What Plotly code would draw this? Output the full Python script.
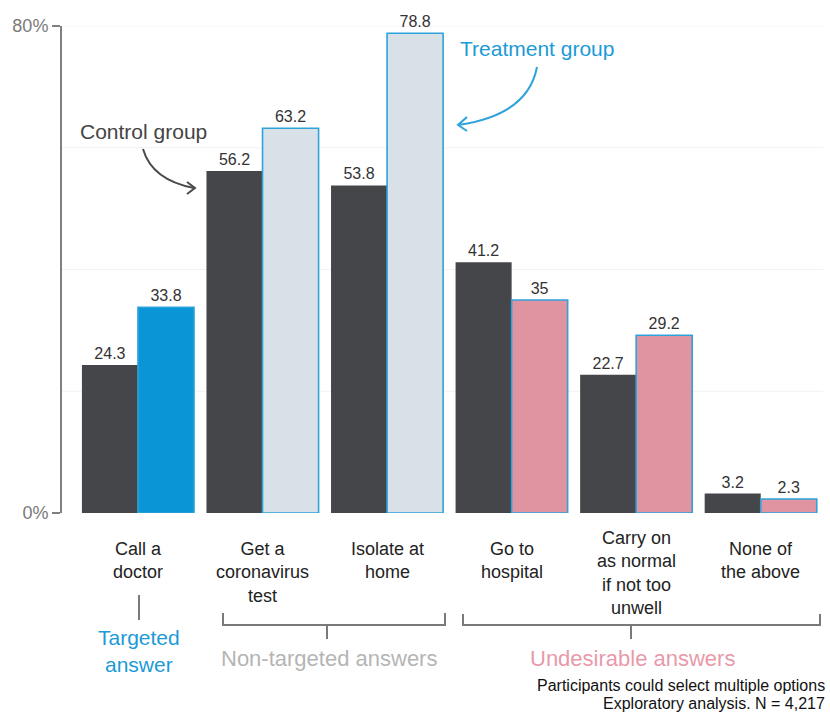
import plotly.graph_objects as go

# ---- data ----
categories = ["Call a doctor", "Get a coronavirus test", "Isolate at home",
              "Go to hospital", "Carry on as normal if not too unwell", "None of the above"]
category_labels = ["Call a<br>doctor", "Get a<br>coronavirus<br>test", "Isolate at<br>home",
                   "Go to<br>hospital", "Carry on<br>as normal<br>if not too<br>unwell", "None of<br>the above"]
control = [24.3, 56.2, 53.8, 41.2, 22.7, 3.2]
treatment = [33.8, 63.2, 78.8, 35, 29.2, 2.3]
answer_type = ["targeted", "non", "non", "undesirable", "undesirable", "undesirable"]

# ---- styling ----
FONT = "Arial, Liberation Sans, sans-serif"
DARK = "#45464a"
BLUE = "#0a96d6"
BLUE_TXT = "#1b9bd7"
OUTLINE = "#2ea3db"
fill_by_type = {"targeted": BLUE, "non": "#d9e1e8", "undesirable": "#e093a1"}
treat_fill = [fill_by_type[t] for t in answer_type]

W, H = 830, 712
L, R, T, B = 62, 7, 26, 199
pw, ph = W - L - R, H - T - B


def px(x):
    return (x - L) / pw


def py(y):
    return (H - B - y) / ph


fig = go.Figure()
fig.add_bar(x=categories, y=control, name="Control group",
            marker=dict(color=DARK, line=dict(width=0)),
            text=[str(v) for v in control], textposition="outside",
            textfont=dict(family=FONT, size=16, color="#333333"), cliponaxis=False)
fig.add_bar(x=categories, y=treatment, name="Treatment group",
            marker=dict(color=treat_fill, line=dict(color=OUTLINE, width=1.6)),
            text=[str(v) for v in treatment], textposition="outside",
            textfont=dict(family=FONT, size=16, color="#333333"), cliponaxis=False)

shapes = []
# faint horizontal guides
for g in [20, 40, 60, 80]:
    shapes.append(dict(type="line", xref="paper", yref="y", x0=0, x1=1, y0=g, y1=g,
                       line=dict(color="#f2f2f2", width=1), layer="below"))

GREY = "#7a7a7a"
# bracket under the "Call a doctor" column
shapes.append(dict(type="line", xref="paper", yref="paper", x0=px(139), x1=px(139),
                   y0=py(595), y1=py(620), line=dict(color=GREY, width=2)))
# bracket for non-targeted answers
shapes.append(dict(type="path", xref="paper", yref="paper",
                   path=f"M {px(223)},{py(613)} L {px(223)},{py(625)} L {px(445)},{py(625)} L {px(445)},{py(613)}",
                   line=dict(color=GREY, width=2)))
shapes.append(dict(type="line", xref="paper", yref="paper", x0=px(327), x1=px(327),
                   y0=py(625), y1=py(639), line=dict(color=GREY, width=2)))
# bracket for undesirable answers
shapes.append(dict(type="path", xref="paper", yref="paper",
                   path=f"M {px(463)},{py(614)} L {px(463)},{py(625)} L {px(820)},{py(625)} L {px(820)},{py(614)}",
                   line=dict(color=GREY, width=2)))
shapes.append(dict(type="line", xref="paper", yref="paper", x0=px(631), x1=px(631),
                   y0=py(625), y1=py(639), line=dict(color=GREY, width=2)))

# curved pointer: control group
shapes.append(dict(type="path", xref="paper", yref="paper",
                   path=f"M {px(143)},{py(149)} Q {px(152)},{py(180)} {px(194)},{py(188)}",
                   line=dict(color="#4a4a4a", width=2)))
shapes.append(dict(type="path", xref="paper", yref="paper",
                   path=f"M {px(187)},{py(182)} L {px(195)},{py(188)} L {px(187)},{py(194)}",
                   line=dict(color="#4a4a4a", width=2)))
# curved pointer: treatment group
shapes.append(dict(type="path", xref="paper", yref="paper",
                   path=f"M {px(537)},{py(67)} Q {px(528)},{py(115)} {px(458)},{py(125)}",
                   line=dict(color=OUTLINE, width=2)))
shapes.append(dict(type="path", xref="paper", yref="paper",
                   path=f"M {px(467)},{py(117)} L {px(458)},{py(125)} L {px(467)},{py(131)}",
                   line=dict(color=OUTLINE, width=2)))

annotations = []
for c, lab in zip(categories, category_labels):
    n_lines = lab.count("<br>") + 1
    # four-line labels sit half a line higher so they clear the bracket
    top = 537 - (11 if n_lines > 3 else 0)
    annotations.append(dict(x=c, xref="x", y=py(top), yref="paper", yanchor="top",
                            xanchor="center", text=lab, showarrow=False, align="center",
                            font=dict(family=FONT, size=18, color="#222222")))


def note(x, y, text, size, color, xanchor="center", align="center"):
    return dict(x=px(x), y=py(y), xref="paper", yref="paper", xanchor=xanchor,
                yanchor="middle", text=text, showarrow=False, align=align,
                font=dict(family=FONT, size=size, color=color))


annotations += [
    note(139, 651, "Targeted<br>answer", 21, BLUE_TXT),
    note(329, 658, "Non-targeted answers", 22, "#b5b5b5"),
    note(632, 658, "Undesirable answers", 22, "#e89aab"),
    note(827, 686, "Participants could select multiple options", 16, "#111111", "right", "right"),
    note(827, 704, "Exploratory analysis. N = 4,217", 16, "#111111", "right", "right"),
    note(143, 131, "Control group", 21, "#444444"),
    note(537, 48, "Treatment group", 21, BLUE_TXT),
]

fig.update_layout(
    width=W, height=H,
    margin=dict(l=L, r=R, t=T, b=B),
    paper_bgcolor="white", plot_bgcolor="white",
    barmode="group", bargap=0.1, bargroupgap=0,
    showlegend=False,
    shapes=shapes, annotations=annotations,
    font=dict(family=FONT),
    xaxis=dict(range=[-0.61, 5.5], showticklabels=False, showgrid=False,
               zeroline=False, showline=False, ticks=""),
    yaxis=dict(range=[0, 80], tickvals=[0, 80], ticktext=["0%", "80%"],
               showgrid=False, zeroline=False, showline=True, linecolor="#808080",
               linewidth=2, ticks="outside", ticklen=8, tickwidth=2, tickcolor="#808080",
               tickfont=dict(family=FONT, size=18, color="#7a7a7a")),
)

fig.write_html("out.html")
